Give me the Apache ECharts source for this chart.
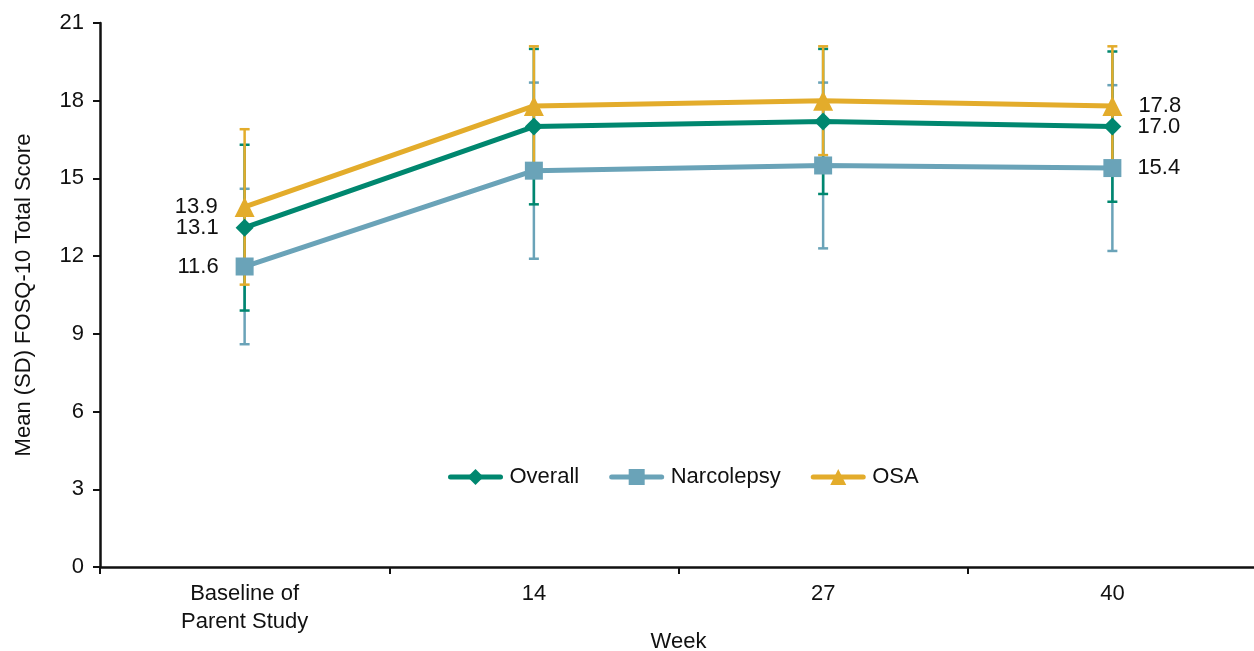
<!DOCTYPE html>
<html><head><meta charset="utf-8">
<script src="https://cdn.jsdelivr.net/npm/echarts@6/dist/echarts.min.js"></script>
<style>html,body{margin:0;padding:0;background:#fff}#c{width:1254px;height:651px}</style>
</head><body><div id="c"></div>
<script>
const categories = ['Baseline of\nParent Study', '14', '27', '40'];
const yTicks = [0, 3, 6, 9, 12, 15, 18, 21];
const overallMean = [13.1, 17.0, 17.2, 17.0];
const overallSD = [3.2, 3.0, 2.8, 2.9];
const narcMean = [11.6, 15.3, 15.5, 15.4];
const narcSD = [3.0, 3.4, 3.2, 3.2];
const osaMean = [13.9, 17.8, 18.0, 17.8];
const osaSD = [3.0, 2.3, 2.1, 2.3];

const C_OVERALL = '#00876f', C_NARC = '#6aa3b8', C_OSA = '#e3ac2b';
const FONT = 'Liberation Sans, Arial, sans-serif';
const FS = 22;

function lineData(means) {
  return means.map((v, i) => {
    const item = { value: v };
    if (i === 0) item.label = { show: true, position: 'left', distance: 17 };
    else if (i === means.length - 1) item.label = { show: true, position: 'right', distance: 16 };
    return item;
  });
}
function errSeries(name, means, sds, color, z) {
  return {
    type: 'custom', name: name + ' SD', z: z, silent: true,
    data: means.map((m, i) => [i, m - sds[i], m + sds[i]]),
    renderItem: function (params, api) {
      const lo = api.coord([api.value(0), api.value(1)]);
      const hi = api.coord([api.value(0), api.value(2)]);
      const hw = 5;
      const st = { stroke: color, lineWidth: 2.5 };
      return { type: 'group', children: [
        { type: 'line', shape: { x1: lo[0], y1: lo[1], x2: hi[0], y2: hi[1] }, style: st },
        { type: 'line', shape: { x1: lo[0] - hw, y1: lo[1], x2: lo[0] + hw, y2: lo[1] }, style: st },
        { type: 'line', shape: { x1: hi[0] - hw, y1: hi[1], x2: hi[0] + hw, y2: hi[1] }, style: st }
      ]};
    }
  };
}
function lineSeries(name, means, color, symbol, size) {
  return {
    type: 'line', name: name, z: 5, data: lineData(means),
    symbol: symbol, symbolSize: size, showAllSymbol: true,
    lineStyle: { color: color, width: 5, cap: 'round' },
    itemStyle: { color: color },
    label: { show: false, color: '#111', fontSize: FS, fontFamily: FONT, formatter: p => p.value.toFixed(1) },
    emphasis: { disabled: true }
  };
}

const chart = echarts.init(document.getElementById('c'));
chart.setOption({
  animation: false,
  textStyle: { fontFamily: FONT },
  grid: { left: 100, right: -3, top: 23, bottom: 84, outerBoundsMode: 'none', containLabel: false },
  legend: {
    left: 443, top: 461, itemWidth: 50, itemHeight: 20, itemGap: 30,
    data: ['Overall', 'Narcolepsy', 'OSA'],
    lineStyle: { width: 5 },
    textStyle: { fontSize: FS, color: '#111', fontFamily: FONT, padding: [0, 0, 0, 4] }
  },
  xAxis: {
    type: 'category', data: categories, boundaryGap: true,
    name: 'Week', nameLocation: 'middle', nameGap: 64, nameMoveOverlap: false,
    nameTextStyle: { fontSize: FS, color: '#111', fontFamily: FONT },
    axisLine: { lineStyle: { color: '#111', width: 2.5 } },
    axisTick: { show: true, length: 7, lineStyle: { color: '#111', width: 2 } },
    axisLabel: { fontSize: FS, color: '#111', margin: 13, lineHeight: 28, fontFamily: FONT }
  },
  yAxis: {
    type: 'value', min: yTicks[0], max: yTicks[yTicks.length - 1], interval: 3,
    name: 'Mean (SD) FOSQ-10 Total Score', nameLocation: 'middle', nameGap: 65, nameMoveOverlap: false,
    nameTextStyle: { fontSize: FS, color: '#111', fontFamily: FONT },
    axisLine: { show: true, lineStyle: { color: '#111', width: 2.5 } },
    axisTick: { show: true, length: 7, lineStyle: { color: '#111', width: 2 } },
    axisLabel: { fontSize: FS, color: '#111', margin: 16, fontFamily: FONT },
    splitLine: { show: false }
  },
  series: [
    errSeries('Narcolepsy', narcMean, narcSD, C_NARC, 1),
    errSeries('Overall', overallMean, overallSD, C_OVERALL, 2),
    errSeries('OSA', osaMean, osaSD, C_OSA, 3),
    lineSeries('Overall', overallMean, C_OVERALL, 'diamond', 18),
    lineSeries('Narcolepsy', narcMean, C_NARC, 'rect', 18),
    lineSeries('OSA', osaMean, C_OSA, 'triangle', 20)
  ]
});
</script></body></html>
